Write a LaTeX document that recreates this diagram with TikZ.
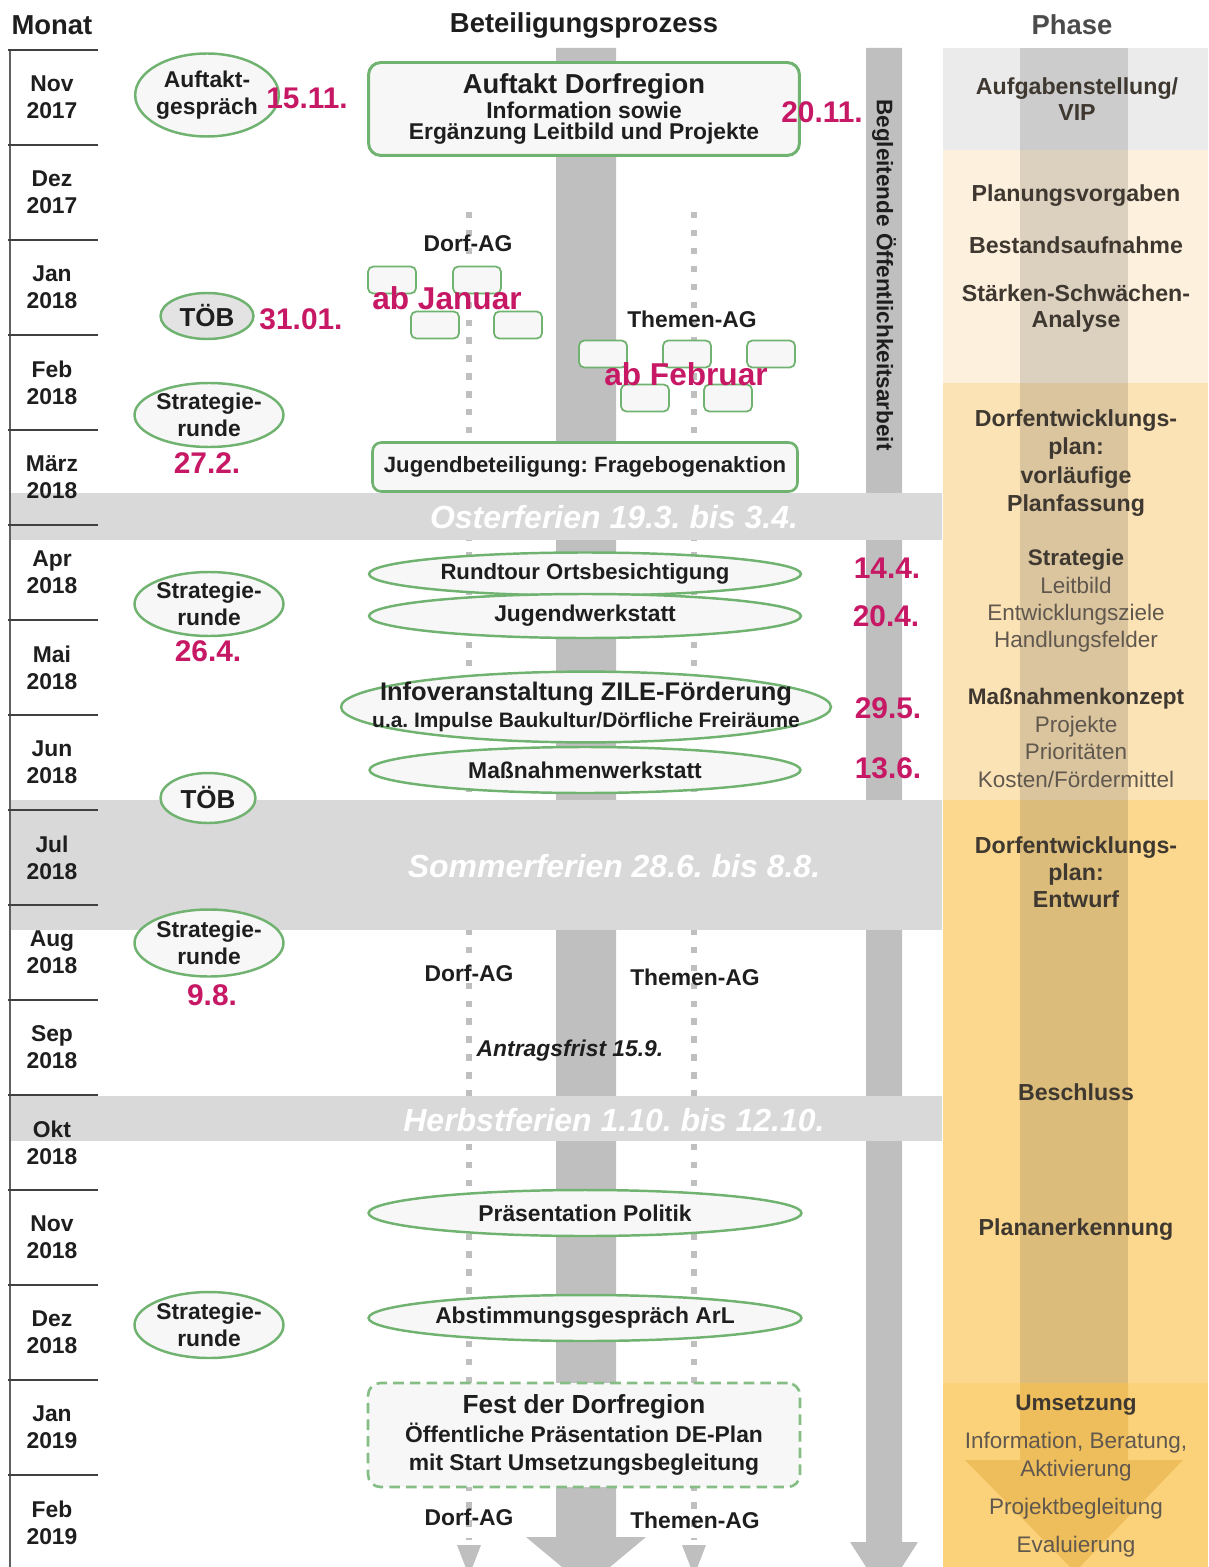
\documentclass[tikz,border=0pt]{standalone}
\usepackage{fontspec}
\setmainfont{Liberation Sans}
\usepackage{tikz}
\usetikzlibrary{shapes,positioning}
\usepackage{xcolor}

\definecolor{datumrot}{RGB}{198,24,100}
\definecolor{gruenrand}{RGB}{112,178,112}
\definecolor{textgrau}{RGB}{30,30,30}
\definecolor{balkengrau}{RGB}{191,191,191}
\definecolor{feriengrau}{RGB}{217,217,217}
\definecolor{phasegrau}{RGB}{235,235,235}
\definecolor{phasehell}{RGB}{253,240,220}
\definecolor{phasemittel}{RGB}{252,227,182}
\definecolor{phasedunkel}{RGB}{252,216,142}
\definecolor{phaseumsetz}{RGB}{251,210,122}
\definecolor{umsetzpfeil}{RGB}{238,190,92}
\definecolor{phasetext}{RGB}{62,56,48}
\definecolor{phasetextmd}{RGB}{96,88,78}

\begin{document}
\frenchspacing
\begin{tikzpicture}[
    x=0.02cm, y=-0.02cm,
    every node/.style={font=\bfseries\fontsize{13}{15.5}\selectfont, text=textgrau},
    kopf/.style={font=\bfseries\fontsize{15.6}{18}\selectfont},
    monat/.style={align=center},
    termin/.style={
        ellipse,
        draw=gruenrand,
        line width=1.4pt,
        fill=gray!6,
        inner sep=0pt,
        align=center
    },
    kasten/.style={
        rectangle,
        draw=gruenrand,
        line width=1.5pt,
        rounded corners=7pt,
        fill=gray!6,
        align=center
    },
    agkasten/.style={
        rectangle,
        draw=gruenrand,
        line width=1pt,
        rounded corners=3pt,
        fill=gray!6,
        minimum width=0.96cm,
        minimum height=0.54cm
    },
    datum/.style={text=datumrot, font=\bfseries\fontsize{17}{20}\selectfont},
    abtext/.style={text=datumrot, font=\bfseries\fontsize{18}{21}\selectfont},
    ferien/.style={text=white, font=\bfseries\itshape\fontsize{18.2}{21}\selectfont},
    agline/.style={balkengrau, line width=3.6pt, dash pattern=on 3.6pt off 6.6pt},
    phase/.style={align=center, text=phasetext, font=\bfseries\fontsize{13.2}{15.5}\selectfont},
    phasemd/.style={align=center, text=phasetextmd, font=\mdseries\fontsize{12.8}{15.5}\selectfont}
]

% Frame
\useasboundingbox (0,0) rectangle (1208,1567);
\clip (0,0) rectangle (1208,1567);

% Phase column
\fill[phasegrau] (943,48) rectangle (1208,150);
\fill[phasehell] (943,150) rectangle (1208,383);
\fill[phasemittel] (943,383) rectangle (1208,800);
\fill[phasedunkel] (943,800) rectangle (1208,1383);
\fill[phaseumsetz] (943,1383) rectangle (1208,1567);
\fill[black, opacity=0.13] (1020,48) rectangle (1128,1383);
\fill[umsetzpfeil] (1020,1383) -- (1128,1383) -- (1128,1460) -- (1183,1460)
    -- (1075,1572) -- (965,1460) -- (1020,1460) -- cycle;

% Process arrows
\fill[balkengrau] (556,48) -- (616,48) -- (616,1537) -- (646,1537)
    -- (586,1587) -- (526,1537) -- (556,1537) -- cycle;
\fill[balkengrau] (866,48) -- (902,48) -- (902,1542) -- (918,1542)
    -- (884,1595) -- (850,1542) -- (866,1542) -- cycle;
\node[rotate=-90, font=\bfseries\fontsize{12.8}{15}\selectfont] (oeff) at (884,275) {Begleitende Öffentlichkeitsarbeit};

% AG lines
\foreach \x in {469, 694} {
    \draw[agline] (\x,212) -- (\x,1540);
    \fill[balkengrau] (\x-12,1545) -- (\x+12,1545) -- (\x,1576) -- cycle;
}

% Holidays
\fill[feriengrau] (10,493) rectangle (942,540);
\fill[feriengrau] (10,800) rectangle (942,930);
\fill[feriengrau] (10,1096) rectangle (942,1141);
\node[ferien] (ostern) at (614,517) {Osterferien 19.3. bis 3.4.};
\node[ferien] (sommer) at (614,866) {Sommerferien 28.6. bis 8.8.};
\node[ferien] (herbst) at (614,1120) {Herbstferien 1.10. bis 12.10.};

% Month column
\draw[line width=1.6pt, gray!75!black] (10,50) -- (10,1567);
\foreach \i/\mon/\jahr in {0/Nov/2017, 1/Dez/2017, 2/Jan/2018, 3/Feb/2018,
        4/März/2018, 5/Apr/2018, 6/Mai/2018, 7/Jun/2018, 8/Jul/2018,
        9/Aug/2018, 10/Sep/2018, 11/Okt/2018, 12/Nov/2018, 13/Dez/2018,
        14/Jan/2019, 15/Feb/2019} {
    \draw[line width=1.6pt, textgrau!85] (8,50+95*\i) -- (98,50+95*\i);
    \node[monat] (m\i) at (52,97.5+95*\i) {\mon\\\jahr};
}

% Headers
\node[kopf] (monat) at (52,25) {Monat};
\node[kopf] (prozess) at (584,25) {Beteiligungsprozess};
\node[kopf, text=textgrau!80] (phase) at (1072,25) {Phase};

% Left column events
\node[termin, minimum width=2.86cm, minimum height=1.66cm] (gespraech) at (207,95) {Auftakt-\\gespräch};
\node[termin, fill=gray!22, minimum width=1.86cm, minimum height=0.92cm,
    font=\bfseries\fontsize{14.8}{17}\selectfont] (toeb1) at (207,316) {TÖB};
\node[termin, minimum width=2.66cm, minimum height=1.28cm] (strat1) at (209,415) {Strategie-\\runde};
\node[termin, minimum width=2.66cm, minimum height=1.28cm] (strat2) at (209,604) {Strategie-\\runde};
\node[termin, minimum width=1.9cm, minimum height=1.0cm,
    font=\bfseries\fontsize{14.8}{17}\selectfont] (toeb2) at (208,798) {TÖB};
\node[termin, minimum width=2.66cm, minimum height=1.34cm] (strat3) at (209,943) {Strategie-\\runde};
\node[termin, minimum width=2.66cm, minimum height=1.32cm] (strat4) at (209,1325) {Strategie-\\runde};

% Central events
\node[kasten, minimum width=8.62cm, minimum height=1.86cm, line width=1.7pt,
    font=\bfseries\fontsize{13}{11.6}\selectfont] (auftakt) at (584,109)
    {{\fontsize{15.6}{18}\selectfont Auftakt Dorfregion}\\[0.4pt]
     Information sowie\\Ergänzung Leitbild und Projekte};

% Dorf-AG / Themen-AG start
\node (dorfag1) at (468,243) {Dorf-AG};
\foreach \x/\y [count=\n] in {392/280, 477/280, 435/325, 518/325}
    \node[agkasten] (dbox\n) at (\x,\y) {};
\node[abtext] (abjan) at (447,298) {ab Januar};
\node (themenag1) at (692,319) {Themen-AG};
\foreach \x/\y [count=\n] in {603/354, 687/354, 771/354, 645/398, 728/398}
    \node[agkasten] (tbox\n) at (\x,\y) {};
\node[abtext] (abfeb) at (686,374) {ab Februar};

\node[kasten, minimum width=8.5cm, minimum height=0.98cm, rounded corners=5pt,
    font=\bfseries\fontsize{12.6}{15}\selectfont] (jugend) at (585,467) {Jugendbeteiligung: Fragebogenaktion};

\node[termin, minimum width=8.64cm, minimum height=0.86cm,
    font=\bfseries\fontsize{12.6}{15}\selectfont] (rundtour) at (585,574) {Rundtour Ortsbesichtigung};
\node[termin, minimum width=8.64cm, minimum height=0.88cm] (jwerk) at (585,616) {Jugendwerkstatt};
\node[termin, minimum width=9.8cm, minimum height=1.24cm, inner xsep=-24pt] (info) at (586,707)
    {{\fontsize{14.5}{15.4}\selectfont Infoveranstaltung ZILE-Förderung}\\
     {\fontsize{11.9}{15.4}\selectfont u.a. Impulse Baukultur/Dörfliche Freiräume}};
\node[termin, minimum width=8.62cm, minimum height=0.92cm] (massnahmen) at (585,770) {Maßnahmenwerkstatt};

% Dorf-AG / Themen-AG after summer
\node (dorfag2) at (469,973) {Dorf-AG};
\node (themenag2) at (695,977) {Themen-AG};
\node[font=\bfseries\itshape\fontsize{13}{15}\selectfont] (frist) at (570,1051) {Antragsfrist 15.9.};

\node[termin, minimum width=8.66cm, minimum height=0.92cm] (politik) at (585,1213) {Präsentation Politik};
\node[termin, minimum width=8.66cm, minimum height=0.92cm] (arl) at (585,1318) {Abstimmungsgespräch ArL};
\node[kasten, dash pattern=on 6pt off 3.5pt, draw=gruenrand!85, minimum width=8.64cm, minimum height=2.08cm,
    font=\bfseries\fontsize{13}{16}\selectfont] (fest) at (584,1435)
    {{\fontsize{14.9}{17}\selectfont Fest der Dorfregion}\\
     Öffentliche Präsentation DE-Plan\\mit Start Umsetzungsbegleitung};
\node (dorfag3) at (469,1517) {Dorf-AG};
\node (themenag3) at (695,1520) {Themen-AG};

% Dates
\node[datum] (d1511) at (307,98) {15.11.};
\node[datum] (d3101) at (301,319) {31.01.};
\node[datum] (d272) at (207,463) {27.2.};
\node[datum] (d264) at (208,651) {26.4.};
\node[datum] (d98) at (212,995) {9.8.};
\node[datum] (d2011) at (822,112) {20.11.};
\node[datum] (d144) at (887,568) {14.4.};
\node[datum] (d204) at (886,616) {20.4.};
\node[datum] (d295) at (888,708) {29.5.};
\node[datum] (d136) at (888,768) {13.6.};

% Phase texts
\node[phase, font=\bfseries\fontsize{13.2}{14.8}\selectfont] (ph1) at (1077,99) {Aufgabenstellung/\\VIP};
\node[phase] (ph2) at (1076,196) {Planungsvorgaben};
\node[phase] (ph3) at (1076,245) {Bestandsaufnahme};
\node[phase, font=\bfseries\fontsize{13.2}{14.8}\selectfont] (ph4) at (1076,309) {Stärken-Schwächen-\\Analyse};
\node[phase, font=\bfseries\fontsize{13.2}{16}\selectfont] (ph5) at (1076,463) {Dorfentwicklungs-\\plan:\\vorläufige\\Planfassung};
\node[phasemd] (ph6) at (1076,601) {{\bfseries\color{phasetext}Strategie}\\Leitbild\\Entwicklungsziele\\Handlungsfelder};
\node[phasemd, font=\mdseries\fontsize{12.8}{15.8}\selectfont] (ph7) at (1076,738) {{\bfseries\color{phasetext}Maßnahmenkonzept}\\Projekte\\Prioritäten\\Kosten/Fördermittel};
\node[phase] (ph8) at (1076,872) {Dorfentwicklungs-\\plan:\\Entwurf};
\node[phase] (ph9) at (1076,1092) {Beschluss};
\node[phase] (ph10) at (1076,1230) {Plananerkennung};
\node[phasemd, font=\mdseries\fontsize{12.8}{16}\selectfont] (ph11) at (1076,1476)
    {{\bfseries\color{phasetext}Umsetzung}\\[5.5pt]Information, Beratung,\\Aktivierung\\[5.5pt]
     Projektbegleitung\\[5.5pt]Evaluierung};

\end{tikzpicture}
\end{document}
